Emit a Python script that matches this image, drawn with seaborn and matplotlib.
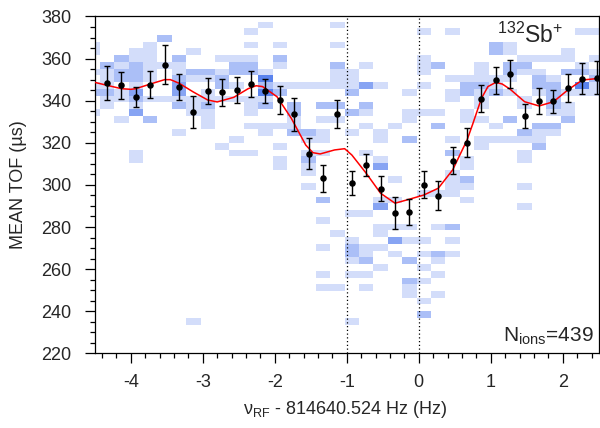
import numpy as np
import matplotlib
matplotlib.use("Agg")
import matplotlib.pyplot as plt
from matplotlib.colors import ListedColormap
from matplotlib.ticker import MultipleLocator
import seaborn as sns

# mean TOF for each frequency step
freq = [-4.33, -4.13, -3.93, -3.73, -3.53, -3.33, -3.13, -2.93, -2.73, -2.53,
        -2.33, -2.13, -1.93, -1.73, -1.53, -1.33, -1.13, -0.93, -0.73, -0.53,
        -0.33, -0.13, 0.07, 0.27, 0.47, 0.67, 0.87, 1.07, 1.27, 1.47,
        1.67, 1.87, 2.07, 2.27, 2.47]
mean_tof = [348.3, 347.3, 341.9, 347.6, 357.1, 346.4, 334.6, 344.6, 344.0, 345.2,
            347.9, 344.8, 340.5, 333.5, 314.8, 303.1, 333.5, 300.9, 309.3, 298.2,
            286.7, 287.1, 300.1, 294.9, 311.5, 320.1, 341.0, 349.7, 352.7, 332.7,
            340.0, 339.7, 345.9, 350.5, 351.0]
tof_err = [8.0, 6.3, 4.8, 6.4, 9.3, 6.1, 7.4, 6.4, 6.5, 6.2,
           6.0, 5.7, 6.7, 7.8, 7.4, 6.5, 6.7, 5.7, 5.3, 6.0,
           7.5, 6.2, 6.3, 6.8, 6.3, 6.7, 6.6, 6.5, 6.5, 5.6,
           6.2, 5.4, 6.7, 7.4, 8.0]

# fitted resonance curve
fit_freq = [-4.5, -4.33, -4.13, -4.0, -3.93, -3.73, -3.53, -3.45, -3.33, -3.13,
            -2.93, -2.8, -2.57, -2.37, -2.26, -2.17, -1.97, -1.77, -1.57, -1.47,
            -1.37, -1.17, -1.03, -0.93, -0.73, -0.53, -0.33, -0.13, 0.07, 0.27,
            0.47, 0.67, 0.75, 0.87, 0.96, 1.07, 1.16, 1.27, 1.47, 1.67,
            1.87, 2.07, 2.27, 2.5]
fit_tof = [348.7, 347.3, 345.7, 345.4, 345.7, 347.9, 350.0, 350.0, 348.3, 344.1,
           340.3, 339.4, 341.6, 345.7, 347.1, 346.7, 341.9, 331.6, 318.9, 315.3,
           314.7, 316.6, 317.2, 314.2, 305.5, 296.0, 291.3, 293.2, 295.2, 298.4,
           307.1, 321.3, 329.0, 341.1, 346.7, 348.7, 347.9, 345.4, 339.5, 337.5,
           339.5, 345.1, 349.8, 350.6]

# single-ion TOF histogram: column centres, cell centres and colour level
cell_freq = [-4.53] + freq
cell_tof = [
    [366.4, 363.2, 353.6, 347.2, 344.0, 334.4],
    [356.8, 353.6, 350.4, 347.2, 344.0, 340.8, 337.6],
    [360.0, 356.8, 353.6, 350.4, 344.0, 340.8, 331.2],
    [363.2, 360.0, 356.8, 353.6, 350.4, 347.2, 344.0, 340.8, 337.6, 334.4, 315.2, 312.0],
    [366.4, 363.2, 360.0, 356.8, 353.6, 350.4, 340.8, 331.2],
    [369.6, 356.8, 340.8],
    [360.0, 356.8, 353.6, 350.4, 347.2, 344.0, 340.8, 337.6, 324.8],
    [363.2, 353.6, 350.4, 340.8, 337.6, 334.4, 235.2],
    [353.6, 350.4, 344.0, 340.8, 337.6, 334.4, 331.2, 328.0],
    [360.0, 353.6, 350.4, 347.2, 340.8, 318.4],
    [360.0, 356.8, 353.6, 347.2, 340.8, 321.6, 315.2],
    [372.8, 366.4, 360.0, 356.8, 353.6, 340.8, 337.6, 334.4, 328.0, 315.2],
    [376.0, 353.6, 350.4, 347.2, 344.0, 340.8, 337.6, 328.0, 324.8],
    [366.4, 360.0, 356.8, 347.2, 344.0, 328.0, 318.4, 312.0, 308.8],
    [347.2, 337.6, 334.4, 331.2, 328.0, 324.8],
    [347.2, 324.8, 321.6, 315.2, 312.0, 308.8, 305.6, 299.2],
    [347.2, 337.6, 331.2, 324.8, 321.6, 315.2, 292.8, 283.2, 270.4, 257.6, 251.2],
    [376.0, 366.4, 356.8, 353.6, 350.4, 347.2, 337.6, 331.2, 276.8, 251.2],
    [353.6, 350.4, 347.2, 344.0, 334.4, 324.8, 286.4, 273.6, 270.4, 267.2, 264.0, 257.6, 235.2],
    [356.8, 347.2, 337.6, 334.4, 328.0, 315.2, 286.4, 270.4, 267.2, 264.0, 257.6, 251.2],
    [347.2, 324.8, 321.6, 312.0, 308.8, 292.8, 289.6, 280.0, 276.8, 270.4, 260.8],
    [328.0, 302.4, 292.8, 280.0, 273.6, 267.2],
    [344.0, 334.4, 331.2, 321.6, 280.0, 273.6, 264.0, 254.4, 251.2, 248.0],
    [372.8, 360.0, 356.8, 353.6, 347.2, 334.4, 296.0, 273.6, 267.2, 260.8, 254.4, 244.8, 238.4],
    [356.8, 334.4, 328.0, 296.0, 280.0, 267.2, 264.0, 257.6, 248.0],
    [372.8, 350.4, 344.0, 340.8, 321.6, 315.2, 305.6, 302.4, 299.2, 296.0, 280.0, 273.6, 267.2],
    [350.4, 347.2, 344.0, 334.4, 331.2, 312.0, 308.8, 302.4, 299.2, 292.8],
    [356.8, 353.6, 350.4, 347.2, 344.0, 340.8, 337.6, 331.2, 321.6, 318.4],
    [366.4, 363.2, 350.4, 347.2, 344.0, 328.0, 321.6],
    [366.4, 363.2, 356.8, 353.6, 350.4, 344.0, 331.2, 321.6],
    [360.0, 356.8, 353.6, 340.8, 337.6, 324.8, 321.6, 315.2, 312.0, 299.2, 289.6],
    [360.0, 353.6, 350.4, 347.2, 344.0, 328.0, 324.8, 321.6, 318.4],
    [360.0, 350.4, 347.2, 344.0, 340.8, 337.6, 334.4, 328.0, 324.8],
    [363.2, 360.0, 353.6, 344.0, 337.6, 334.4, 331.2],
    [372.8, 356.8, 353.6, 347.2, 344.0],
    [372.8, 360.0, 353.6, 350.4, 347.2, 344.0],
]
cell_level = [
    [1, 1, 1, 1, 2, 1],
    [2, 1, 1, 1, 2, 1, 1],
    [2, 1, 2, 2, 1, 1, 1],
    [1, 1, 2, 2, 2, 1, 3, 2, 1, 3, 1, 1],
    [1, 1, 1, 1, 1, 1, 1, 2],
    [2, 1, 1],
    [2, 1, 1, 2, 3, 3, 1, 2, 1],
    [1, 2, 1, 1, 1, 1, 1],
    [2, 1, 1, 1, 2, 1, 1, 1],
    [1, 1, 2, 2, 1, 1],
    [1, 2, 2, 1, 1, 1, 1],
    [1, 1, 1, 2, 2, 1, 1, 1, 1, 1],
    [1, 1, 4, 2, 4, 1, 2, 1, 1],
    [1, 2, 1, 1, 2, 1, 1, 1, 1],
    [1, 2, 2, 1, 1, 2],
    [1, 2, 1, 1, 2, 1, 1, 1],
    [1, 2, 1, 1, 1, 1, 2, 1, 1, 1, 1],
    [1, 1, 2, 1, 1, 1, 2, 1, 1, 1],
    [1, 1, 1, 2, 2, 1, 1, 1, 2, 2, 1, 1, 1],
    [1, 3, 2, 1, 1, 1, 1, 1, 1, 2, 1, 1],
    [1, 1, 1, 1, 3, 1, 3, 1, 1, 1, 1],
    [1, 1, 1, 1, 3, 1],
    [1, 1, 1, 2, 1, 1, 2, 2, 1, 1],
    [1, 1, 1, 1, 1, 1, 1, 1, 1, 1, 1, 1, 2],
    [2, 1, 2, 1, 1, 2, 1, 1, 1],
    [1, 1, 1, 1, 1, 2, 1, 1, 1, 1, 2, 1, 1],
    [1, 2, 2, 1, 1, 1, 1, 2, 1, 1],
    [1, 1, 1, 2, 1, 1, 1, 1, 1, 1],
    [2, 2, 1, 1, 2, 1, 1],
    [1, 1, 2, 2, 1, 1, 2, 1],
    [1, 2, 1, 1, 1, 2, 1, 1, 1, 1, 1],
    [1, 1, 2, 2, 1, 2, 1, 1, 2],
    [1, 1, 2, 2, 2, 2, 1, 2, 1],
    [1, 1, 2, 1, 1, 1, 2],
    [1, 1, 2, 4, 1],
    [1, 1, 1, 2, 1, 1],
]

n_ions = 439

sns.set_style("ticks")
plt.rcParams["font.family"] = ["Liberation Sans", "DejaVu Sans"]
plt.rcParams["mathtext.fontset"] = "custom"
plt.rcParams["mathtext.rm"] = "Liberation Sans"
plt.rcParams["mathtext.it"] = "Liberation Sans:italic"
plt.rcParams["mathtext.bf"] = "Liberation Sans:bold"
plt.rcParams["axes.unicode_minus"] = False

fig = plt.figure(figsize=(6, 4.28), dpi=100)
ax = fig.add_axes([0.158, 0.1745, 0.840, 0.787])

# histogram of the single ions
hx = [f for f, col in zip(cell_freq, cell_tof) for _ in col]
hy = [t for col in cell_tof for t in col]
hw = [w for col in cell_level for w in col]
xedges = np.arange(-4.63, 2.58, 0.2)
yedges = np.arange(217.6, 384.1, 3.2)
blues = ListedColormap(["#d3ddfa", "#abbff7", "#87a4f3", "#5a83ee"])
sns.histplot(x=hx, y=hy, weights=hw, bins=(xedges, yedges), cmap=blues,
             vmin=0.5, vmax=4.5, ax=ax)

for xv in (-1, 0):
    ax.axvline(xv, color="black", ls=(0, (1, 2)), lw=0.9, zorder=3)

sns.lineplot(x=fit_freq, y=fit_tof, color="red", linewidth=1.1, sort=False,
             ax=ax, zorder=4)
ax.errorbar(freq, mean_tof, yerr=tof_err, fmt="none", ecolor="black",
            elinewidth=1, capsize=2.4, capthick=1, zorder=5)
sns.scatterplot(x=freq, y=mean_tof, color="black", s=22, linewidth=0,
                ax=ax, zorder=6)

ax.set_xlim(-4.5, 2.5)
ax.set_ylim(220, 380)
ax.xaxis.set_major_locator(MultipleLocator(1))
ax.xaxis.set_minor_locator(MultipleLocator(0.2))
ax.yaxis.set_major_locator(MultipleLocator(20))
ax.yaxis.set_minor_locator(MultipleLocator(5))
ax.tick_params(which="both", direction="out", color="black", width=0.9,
               labelsize=13, top=False, right=False)
ax.tick_params(axis="x", pad=8)
ax.tick_params(axis="y", pad=10)
ax.tick_params(which="major", length=7)
ax.tick_params(which="minor", length=3.5)
for s in ax.spines.values():
    s.set_visible(True)
    s.set_color("black")
    s.set_linewidth(0.9)

ax.set_xlabel(r"ν$_{\mathrm{RF}}$ - 814640.524 Hz (Hz)", fontsize=13)
ax.set_ylabel("MEAN TOF (µs)", fontsize=13)
ax.xaxis.set_label_coords(0.496, -0.135)
ax.yaxis.set_label_coords(-0.135, 0.5)

ax.text(0.929, 0.922, r"$^{132}$Sb$^{+}$", transform=ax.transAxes,
        ha="right", va="baseline", fontsize=16.5)
ax.text(0.99, 0.033, r"N$_{\mathrm{ions}}$=" + str(n_ions), transform=ax.transAxes,
        ha="right", va="baseline", fontsize=15)

fig.savefig("out.png", dpi=100)
